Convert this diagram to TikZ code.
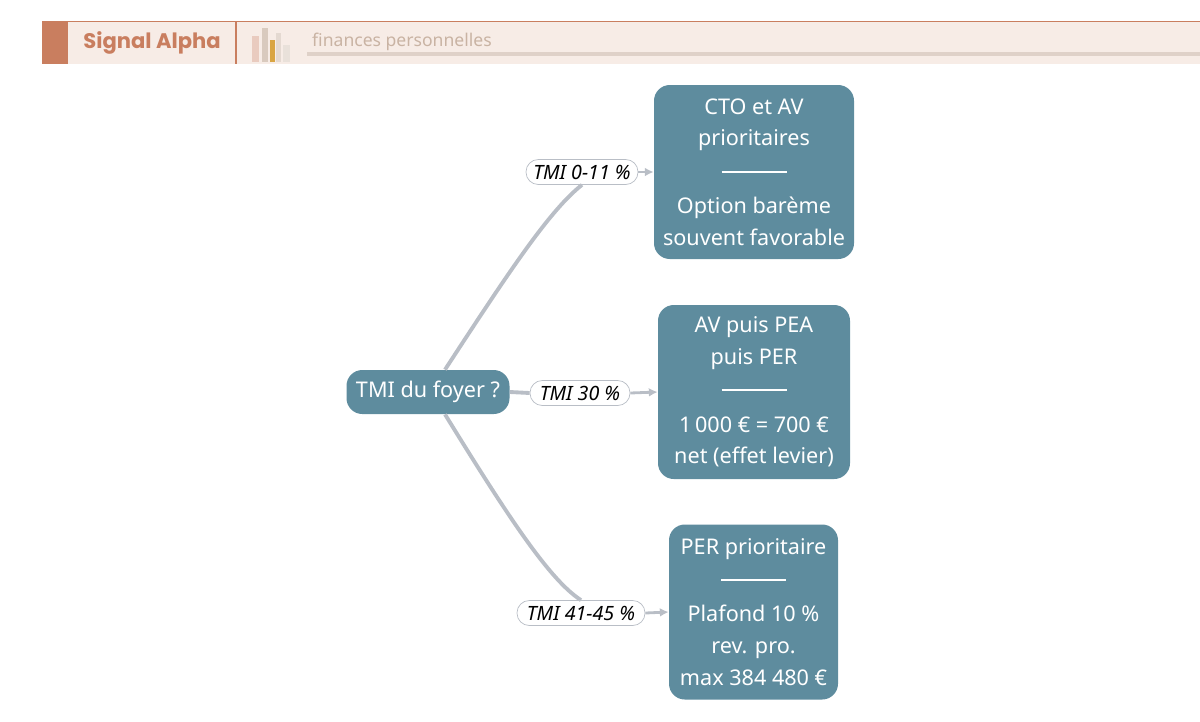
\documentclass[tikz,border=0pt]{standalone}
\usepackage{fontspec}
\setmainfont{Noto Sans}
\newfontfamily\titlefont{Poppins}
\usetikzlibrary{arrows.meta}
\definecolor{peach}{HTML}{F7ECE6}
\definecolor{rust}{HTML}{C97E5F}
\definecolor{tan}{HTML}{C9B3A3}
\definecolor{teal}{HTML}{5E8C9E}
\definecolor{wire}{HTML}{B9BEC6}
\tikzset{
  decision/.style={rounded corners=9pt,fill=teal,text=white,align=center,
    font=\fontsize{12.3}{18.2}\selectfont},
  pill/.style={rounded corners=7pt,draw=wire,fill=white,inner sep=2pt,
    minimum height=25*0.02cm,font=\fontsize{11.2}{13}\selectfont\itshape},
  branch/.style={wire,line width=2.2pt},
  feed/.style={wire,line width=1.6pt,-{Latex[length=5pt,width=5pt]}}
}
\newcommand{\sepline}{\\[1pt]\textcolor{white}{\rule[4pt]{1.3cm}{1.2pt}}\\[1pt]}
\begin{document}
\begin{tikzpicture}[x=0.02cm,y=-0.02cm]
  \useasboundingbox (0,0) rectangle (1200,721);
  % header band
  \fill[peach] (42,21) rectangle (1200,64);
  \draw[rust,line width=0.6pt] (42,21.5) -- (1200,21.5);
  \fill[rust] (42,21) rectangle (68,64);
  \draw[rust,line width=0.6pt] (236,21) -- (236,64);
  \node (title) at (152,43) {\titlefont\bfseries\fontsize{12}{14}\selectfont\textcolor{rust}{Signal Alpha}};
  \fill[rust!40] (252,36) rectangle (259,62);
  \fill[tan!70] (262,28) rectangle (268,62);
  \fill[rust!70!yellow] (270,40) rectangle (275,62);
  \fill[tan!50] (276,33) rectangle (281,62);
  \fill[tan!40] (283,45) rectangle (290,62);
  \node[anchor=west] (sub) at (306,42) {\fontsize{10}{12}\selectfont\textcolor{tan}{finances personnelles}};
  \fill[tan!60] (307,52) rectangle (1200,56);

  % decision tree
  \node[decision,minimum width=163*0.02cm,minimum height=44*0.02cm] (root) at (428,392) {TMI du foyer ?};
  \node[decision,minimum width=200*0.02cm,minimum height=174*0.02cm] (low) at (754,172)
    {CTO et AV\\prioritaires\sepline Option barème\\souvent favorable};
  \node[decision,minimum width=192*0.02cm,minimum height=174*0.02cm] (mid) at (754,392)
    {AV puis PEA\\puis PER\sepline 1\,000 € = 700 €\\net (effet levier)};
  \node[decision,minimum width=169*0.02cm,minimum height=175*0.02cm] (high) at (753.5,612)
    {PER prioritaire\sepline Plafond 10 \%\\rev. pro.\\max 384 480 €};

  \node[pill,minimum width=112*0.02cm] (tlow) at (582,172) {TMI 0-11 \%};
  \node[pill,minimum width=100*0.02cm] (tmid) at (580,393) {TMI 30 \%};
  \node[pill,minimum width=128*0.02cm] (thigh) at (581,613) {TMI 41-45 \%};

  \draw[branch] (root.north) ++(17,0) .. controls (510,270) and (550,210) .. (tlow.south);
  \draw[branch] (root.east) -- (tmid.west);
  \draw[branch] (root.south) ++(17,0) .. controls (510,520) and (550,580) .. (thigh.north);
  \draw[feed] (tlow.east) -- (low.west);
  \draw[feed] (tmid.east) -- (mid.west);
  \draw[feed] (thigh.east) -- (high.west);
\end{tikzpicture}
\end{document}
